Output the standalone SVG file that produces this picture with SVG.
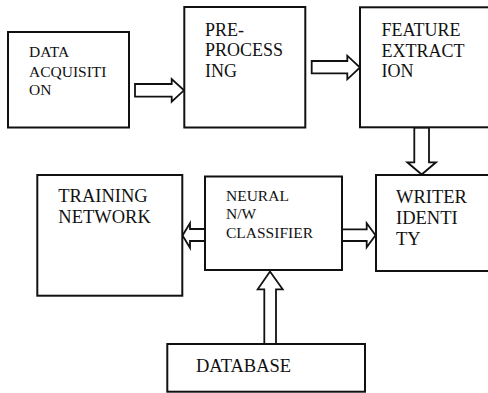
<svg xmlns="http://www.w3.org/2000/svg" width="488" height="393" viewBox="0 0 488 393">
<style>
.box{fill:#fff;stroke:#111;stroke-width:2}
.arr{fill:#fff;stroke:#111;stroke-width:1.8;stroke-linejoin:miter}
text{font-family:"Liberation Serif","Times New Roman",serif;fill:#111}
.s{font-size:15.5px}
.m{font-size:18px}
.l{font-size:18.5px}
</style>
<rect width="488" height="393" fill="#fff"/>
<g id="connectors">
<polygon class="arr" points="135,84 171.7,84 171.7,79 184,90.3 171.7,101.7 171.7,96.7 135,96.7"/>
<polygon class="arr" points="311.7,61 347.3,61 347.3,55.7 360,67.5 347.3,79.3 347.3,73.3 311.7,73.3"/>
<polygon class="arr" points="414.3,127.5 414.3,162.3 407.3,162.3 421.7,174.5 436,162.3 429,162.3 429,127.5"/>
<polygon class="arr" points="342,229.3 366.7,229.3 366.7,223.3 375.5,235.3 366.7,247.3 366.7,241 342,241"/>
<polygon class="arr" points="205,229 190,229 190,223.3 182.5,235.5 190,247.7 190,241 205,241"/>
<polygon class="arr" points="264.3,344 264.3,289.3 257.7,289.3 270,271.5 282.7,289.3 276,289.3 276,344"/>
</g>
<g id="data-acquisition">
<rect class="box" x="8" y="32" width="121" height="95.5"/>
<text class="s" x="29" y="57">DATA</text>
<text class="s" x="29" y="76.5">ACQUISITI</text>
<text class="s" x="29" y="94.5">ON</text>
</g>
<g id="pre-processing">
<rect class="box" x="184.3" y="7" width="121" height="120.5"/>
<text class="m" x="205" y="36">PRE-</text>
<text class="m" x="205" y="56.3">PROCESS</text>
<text class="m" x="205" y="76.7">ING</text>
</g>
<g id="feature-extraction">
<rect class="box" x="360" y="7.3" width="132" height="120"/>
<text class="m" x="381.5" y="35.7">FEATURE</text>
<text class="m" x="381.5" y="56.5">EXTRACT</text>
<text class="m" x="381.5" y="77.3">ION</text>
</g>
<g id="training-network">
<rect class="box" x="37.3" y="175" width="145" height="120.7"/>
<text class="l" x="58.3" y="202.3">TRAINING</text>
<text class="l" x="58.3" y="222.7">NETWORK</text>
</g>
<g id="neural-classifier">
<rect class="box" x="205" y="176.5" width="137" height="93.5"/>
<text class="s" x="226" y="201">NEURAL</text>
<text class="s" x="226" y="219.3">N/W</text>
<text class="s" x="226" y="237.7">CLASSIFIER</text>
</g>
<g id="writer-identity">
<rect class="box" x="376" y="175" width="116" height="96"/>
<text class="l" x="396" y="203">WRITER</text>
<text class="l" x="396" y="224">IDENTI</text>
<text class="l" x="396" y="245">TY</text>
</g>
<g id="database">
<rect class="box" x="167.3" y="344" width="197.7" height="47.7"/>
<text class="l" x="196" y="371.7">DATABASE</text>
</g>
</svg>
